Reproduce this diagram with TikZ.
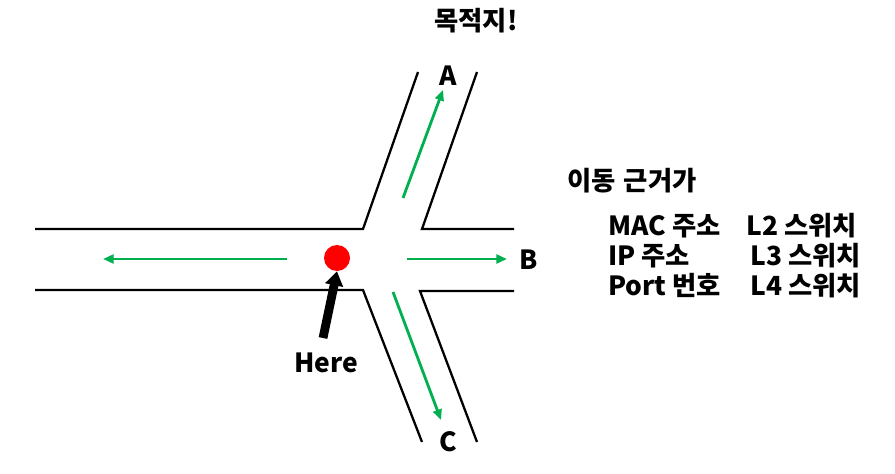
\documentclass[tikz,border=0pt]{standalone}
\usepackage{fontspec}
\setmainfont{Noto Sans CJK KR}
\usetikzlibrary{arrows.meta}
\definecolor{roadgreen}{RGB}{0,176,80}

\begin{document}
\begin{tikzpicture}[x=0.02cm,y=-0.02cm]
            \useasboundingbox (0,0) rectangle (895,473);
            \tikzset{
                road/.style={line width=1.3pt},
                way/.style={roadgreen, line width=1.6pt, -{Triangle[length=6pt,width=5pt]}},
                lbl/.style={font=\fontsize{15}{18}\selectfont\bfseries, inner sep=0pt}
            }
            % road edges
            \coordinate (tl) at (35,229);
            \coordinate (tlc) at (363,229);
            \coordinate (al) at (418,72);
            \coordinate (ar) at (477,72);
            \coordinate (trc) at (422,229);
            \coordinate (tr) at (514,229);
            \coordinate (bl) at (35,290);
            \coordinate (blc) at (363,290);
            \coordinate (cl) at (422,442);
            \coordinate (cr) at (477,442);
            \coordinate (brc) at (420,291);
            \coordinate (br) at (514,291);
            \draw[road] (tl) -- (tlc) -- (al);
            \draw[road] (ar) -- (trc) -- (tr);
            \draw[road] (bl) -- (blc) -- (cl);
            \draw[road] (cr) -- (brc) -- (br);
            % where we are
            \node (here) [circle, fill=red, minimum size=26*0.02cm, inner sep=0pt] at (337,258) {};
            \node (herelbl) [lbl, anchor=base] at (326,372) {Here};
            \coordinate (tail) at (323,338);
            \draw[line width=5pt, -{Triangle[length=8pt,width=10pt]}] (tail) -- (here.south);
            % directions
            \coordinate (wfrom) at (287,259);
            \coordinate (wto) at (103,259);
            \coordinate (efrom) at (407,259);
            \coordinate (eto) at (507,259);
            \coordinate (nfrom) at (403,198);
            \coordinate (nto) at (443,90);
            \coordinate (sfrom) at (393,292);
            \coordinate (sto) at (441,420);
            \draw[way] (wfrom) -- (wto);
            \draw[way] (efrom) -- (eto);
            \draw[way] (nfrom) -- (nto);
            \draw[way] (sfrom) -- (sto);
            \node (a) [lbl] at (448,76) {A};
            \node (b) [lbl] at (529,260) {B};
            \node (c) [lbl] at (448,442) {C};
            \node (goal) [lbl, anchor=base] at (476,31) {목적지!};
            % legend
            \node (why) [lbl, anchor=base west] at (567,190) {이동\hspace{0.3em}근거가};
            \node (mac) [lbl, anchor=base west] at (608,235) {MAC 주소};
            \node (l2) [lbl, anchor=base west] at (746,235) {L2 스위치};
            \node (ip) [lbl, anchor=base west] at (608,265) {IP 주소};
            \node (l3) [lbl, anchor=base west] at (750,265) {L3 스위치};
            \node (port) [lbl, anchor=base west] at (608,295) {Port 번호};
            \node (l4) [lbl, anchor=base west] at (750,295) {L4 스위치};
\end{tikzpicture}
\end{document}
